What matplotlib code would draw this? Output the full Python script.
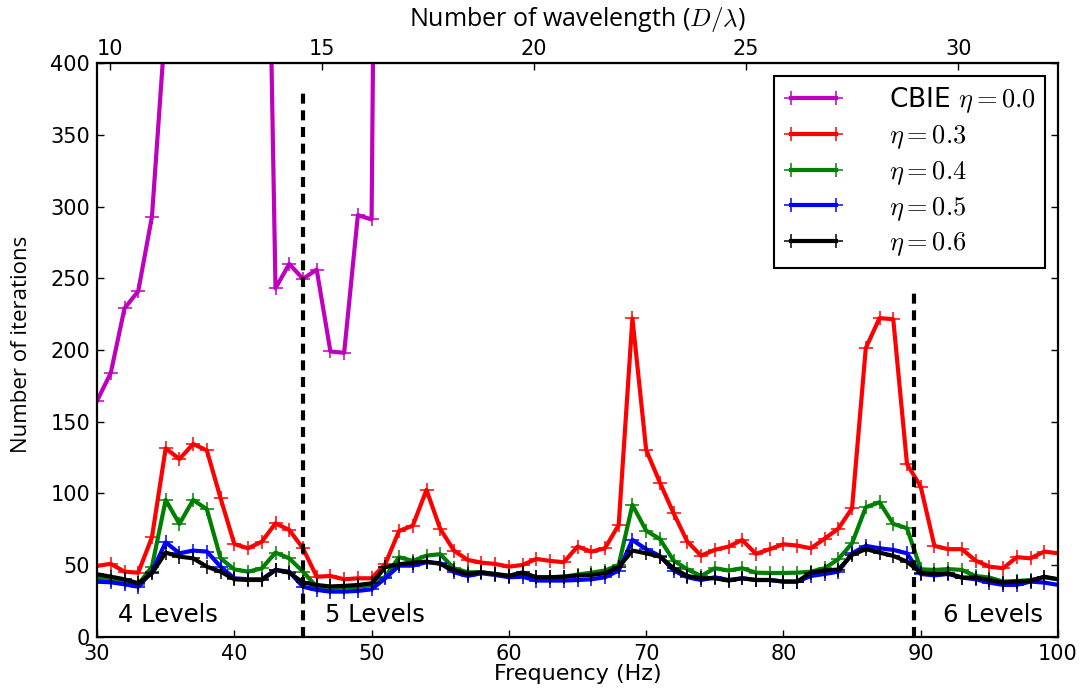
import matplotlib
matplotlib.use("Agg")
import matplotlib.pyplot as plt
import numpy as np

plt.rcParams["font.family"] = "DejaVu Sans"
plt.rcParams["mathtext.fontset"] = "cm"

freq = np.arange(30, 101)

cbie = [164.6, 184, 229, 241, 293, 430, np.nan, np.nan, np.nan, np.nan,
        np.nan, np.nan, 780, 243, 260, 249.6, 256, 199, 198, 294,
        291, 1400]
eta03 = [49.5, 51, 45.5, 44.8, 69.5, 131.5, 124, 134.5, 130, 96.6,
         64.8, 61.8, 66.4, 79.2, 74.6, 61.8, 42, 42.5, 40.2, 40.9,
         40.9, 50.9, 73.9, 77.6, 102.5, 75.3, 60.2, 53.7, 51.8, 50.9,
         49, 50.2, 54.4, 53, 52.1, 63, 59.5, 61.8, 78.1, 222,
         130.4, 107.6, 86.2, 66.5, 56.7, 60.7, 63, 67.6, 57.9, 61.2,
         64.6, 63.7, 61.8, 68.5, 75.5, 89.7, 201.3, 222.2, 221.5, 120.6,
         104.8, 63.5, 61.2, 61.2, 53.2, 49, 47.9, 55.6, 54.8, 59.5,
         58.3]
eta04 = [41, 40, 38.5, 36.5, 49, 95.5, 78.8, 95.5, 89, 54.8,
         47.1, 45.5, 47.8, 58.8, 54.8, 45.5, 35, 34.2, 34.4, 35,
         36.2, 42, 55.6, 53, 56.7, 57.7, 47.9, 45.1, 45.1, 43.7,
         42.5, 43.9, 41.6, 41.6, 42, 43.5, 44.8, 46.3, 50.2, 92,
         74.1, 68.3, 53.2, 47.2, 42.5, 47.9, 46.3, 47.9, 44.8, 44.6,
         44.6, 44.8, 45.5, 47.9, 54.2, 65.3, 90.4, 93.9, 78.8, 75.8,
         47.2, 46.7, 47.3, 46.7, 42.5, 41.4, 38.6, 39, 39.7, 41.6,
         40.2]
eta05 = [38.5, 38.1, 36.7, 35, 45.5, 66, 58.3, 60.2, 59.5, 49,
         40.9, 40.2, 40.2, 46.7, 45.5, 35, 32.8, 31.6, 31.6, 32.1,
         33.2, 40.9, 49.7, 49.7, 52.1, 51.4, 45.1, 42.5, 44.4, 43.2,
         41.6, 42, 39.3, 39.3, 39.3, 39.7, 40.2, 41.6, 46.3, 67.6,
         61.2, 56.5, 46.3, 41.6, 39.7, 41.6, 39.7, 40.9, 39.7, 39.7,
         38.6, 38.6, 42.5, 43.9, 45.5, 58.3, 63.5, 61.8, 60.7, 58.3,
         43.9, 42.9, 43.9, 41.4, 40.2, 37.9, 36.3, 36.3, 38.6, 37.9,
         36.3]
eta06 = [43.7, 42, 40.2, 37.4, 44.4, 58.8, 56, 54.8, 49, 45.5,
         40.2, 39.7, 39.7, 46.7, 44.8, 38, 36.2, 35.2, 35.6, 36.2,
         37.4, 48.6, 50.7, 51.8, 52.5, 50.9, 46.7, 43.9, 45.1, 43.9,
         42.7, 45, 41.6, 41.6, 42, 42.8, 43.2, 44.4, 48.6, 60.2,
         58.3, 56, 47.9, 42.5, 40.9, 40.9, 39.3, 40.9, 39.7, 39.7,
         38.6, 38.6, 44.8, 46.3, 47, 57.2, 61.2, 58.8, 56.5, 52.5,
         44.8, 43.9, 44.4, 41.4, 41.4, 39.7, 37.9, 38.6, 39, 42,
         40.2]

labels = ["CBIE $\\eta=0.0$", "$\\eta=0.3$", "$\\eta=0.4$", "$\\eta=0.5$",
          "$\\eta=0.6$"]
colors = ["m", "r", "g", "b", "k"]

# level boundaries (Hz) and how far up the dashed line goes
level_bounds = [45, 89.5]
level_tops = [380, 240]
level_text = ["4 Levels", "5 Levels", "6 Levels"]
level_text_x = [31.5, 46.6, 91.6]

wl_per_hz = 0.3235  # D/lambda per Hz

fig = plt.figure(figsize=(10.88, 6.91), dpi=100)
ax = fig.add_axes([0.0892, 0.0782, 0.8832, 0.8306])

series = [cbie, eta03, eta04, eta05, eta06]
for s, c, lab in zip(series, colors, labels):
    ax.plot(freq[:len(s)], s, color=c, lw=3, marker="+", ms=10, mew=1.1,
            label=lab)

for xb, yt in zip(level_bounds, level_tops):
    ax.vlines(xb, 0, yt, colors="k", linestyles=(0, (2.4, 1.6)), lw=3)

for t, xt in zip(level_text, level_text_x):
    ax.text(xt, 15, t, fontsize=17.5, va="center", ha="left")

ax.set_xlim(30, 100)
ax.set_ylim(0, 400)
ax.set_xticks(np.arange(30, 101, 10))
ax.set_yticks(np.arange(0, 401, 50))
ax.tick_params(direction="in", length=5, width=1, labelsize=15,
               right=True, top=False)
ax.tick_params(axis="x", pad=5)
ax.tick_params(axis="y", pad=5)
for sp in ax.spines.values():
    sp.set_linewidth(1.6)

ax.set_xlabel("Frequency (Hz)", fontsize=16, labelpad=0)
ax.set_ylabel("Number of iterations", fontsize=16, family="Open Sans")
ax.yaxis.set_label_coords(-0.068, 0.51)

sec = ax.secondary_xaxis("top", functions=(lambda f: f * wl_per_hz,
                                           lambda w: w / wl_per_hz))
sec.set_xticks([10, 15, 20, 25, 30])
sec.tick_params(direction="in", length=5, width=1, labelsize=15, pad=3)
sec.set_xlabel("Number of wavelength ($D/\\lambda$)", fontsize=18,
               family="Open Sans", labelpad=9)

leg = ax.legend(loc="upper right", fontsize=19, numpoints=2,
                fancybox=False, framealpha=1, edgecolor="k",
                handlelength=2.3, handletextpad=1.7, labelspacing=0.3,
                borderaxespad=0.5, borderpad=0.35)
leg.get_frame().set_linewidth(1.5)

fig.savefig("out.png", dpi=100)
